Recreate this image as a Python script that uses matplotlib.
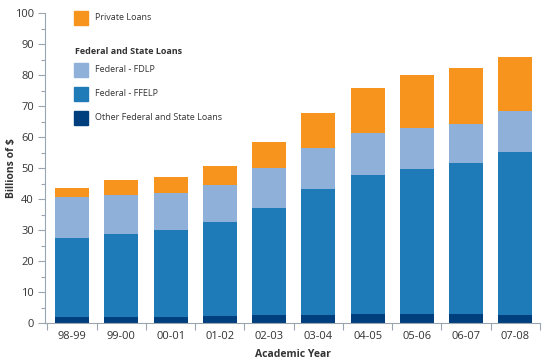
import numpy as np
import matplotlib.pyplot as plt
from matplotlib.patches import Rectangle

years = ['98-99', '99-00', '00-01', '01-02', '02-03', '03-04', '04-05', '05-06', '06-07', '07-08']
other = [1.8, 1.8, 1.8, 2.1, 2.5, 2.5, 2.8, 2.8, 2.8, 2.5]
ffelp = [25.7, 26.9, 28.1, 30.4, 34.7, 40.6, 44.8, 46.9, 48.9, 52.8]
fdlp = [13.0, 12.7, 12.0, 12.1, 12.8, 13.5, 13.6, 13.3, 12.5, 13.0]
private = [3.2, 4.6, 5.1, 6.2, 8.5, 11.3, 14.5, 17.1, 17.9, 17.6]

c_private = '#F7941D'
c_fdlp = '#8FB1D9'
c_ffelp = '#1F7BB8'
c_other = '#003F7D'
txt = '#333333'
axc = '#9AA5B1'

plt.rcParams['font.family'] = ['Open Sans', 'DejaVu Sans']

W, H = 550, 359
fig = plt.figure(figsize=(5.5, 3.59), dpi=100)
ax = fig.add_axes([45 / W, 1 - 323 / H, (540 - 45) / W, (323 - 13) / H])

x = np.arange(len(years))
w = 0.69
b = np.zeros(len(years))
for vals, c in [(other, c_other), (ffelp, c_ffelp), (fdlp, c_fdlp), (private, c_private)]:
    ax.bar(x, vals, w, bottom=b, color=c, edgecolor='none', zorder=2)
    b = b + np.array(vals)

ax.set_xlim(-0.55, 9.5)
ax.set_ylim(0, 100)
ax.set_yticks(np.arange(0, 101, 10))
ax.set_yticks(np.arange(5, 100, 10), minor=True)
ax.set_xticks(x)
ax.set_xticklabels(years)
ax.set_xticks(np.arange(-0.5, 10, 1), minor=True)
ax.tick_params(axis='x', which='major', length=0, pad=6, labelsize=8, labelcolor=txt)
ax.tick_params(axis='x', which='minor', length=5, color=axc, width=0.8)
ax.tick_params(axis='y', which='major', length=5, color=axc, width=0.8, labelsize=8, labelcolor=txt, pad=3)
ax.tick_params(axis='y', which='minor', length=3, color=axc, width=0.8)
for s in ['top', 'right']:
    ax.spines[s].set_visible(False)
for s in ['left', 'bottom']:
    ax.spines[s].set_color(axc)
    ax.spines[s].set_linewidth(0.8)

ax.set_ylabel('Billions of $', fontsize=7.5, fontweight='bold', color=txt)
ax.yaxis.set_label_coords(-0.056, 0.5)
ax.set_xlabel('Academic Year', fontsize=7.5, fontweight='bold', color=txt, labelpad=5)

# legend built by hand
def sq(px, py, c):
    fig.patches.append(Rectangle((px / W, 1 - (py + 7) / H), 14 / W, 14 / H,
                                 transform=fig.transFigure, color=c, figure=fig))

items = [('Private Loans', c_private, 18),
         ('Federal - FDLP', c_fdlp, 70),
         ('Federal - FFELP', c_ffelp, 94),
         ('Other Federal and State Loans', c_other, 118)]
for label, c, py in items:
    sq(74, py, c)
    fig.text(95 / W, 1 - py / H, label, fontsize=6.5, color=txt, va='center')
fig.text(75 / W, 1 - 52 / H, 'Federal and State Loans', fontsize=6.5, fontweight='bold',
         color=txt, va='center')

fig.savefig('out.png', dpi=100)
